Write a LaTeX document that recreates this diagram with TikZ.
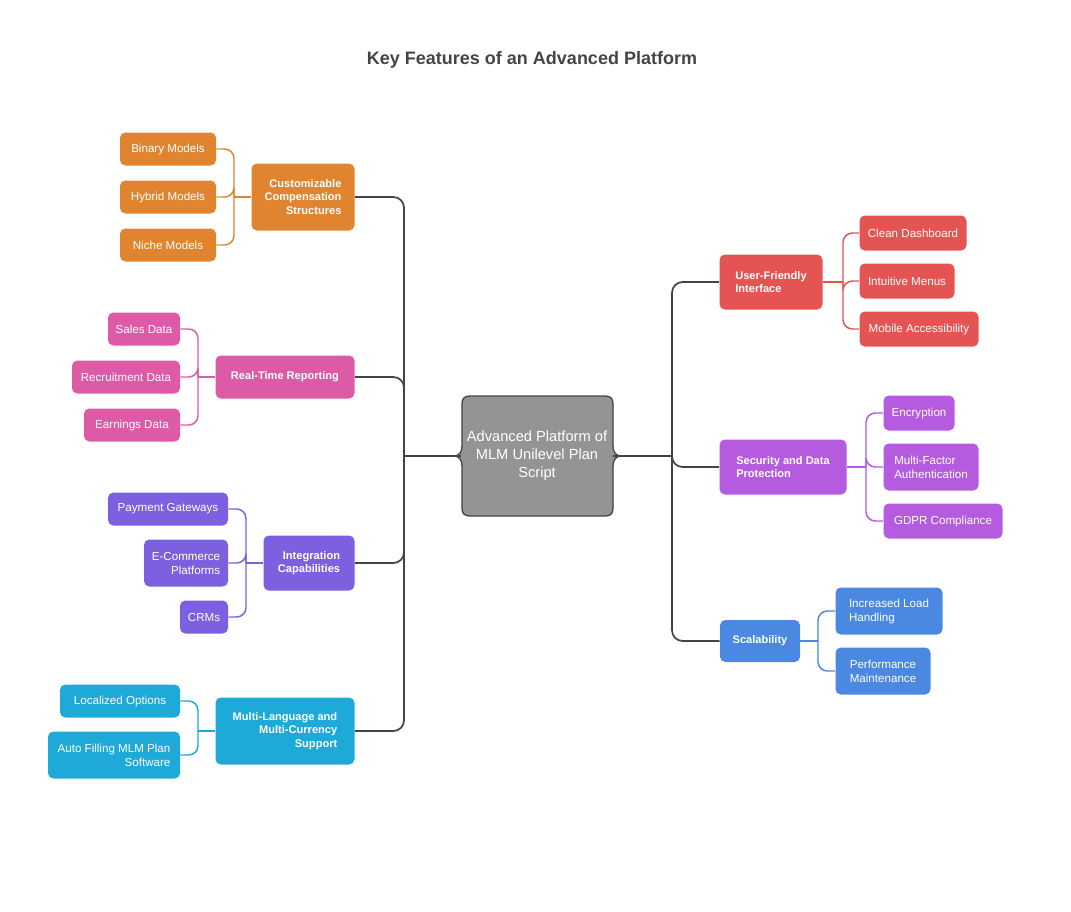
\documentclass[tikz,border=0pt]{standalone}
\usepackage{fontspec}
\setmainfont{Liberation Sans}
\usetikzlibrary{positioning}
\definecolor{cOrange}{HTML}{E0842F}
\definecolor{cPink}{HTML}{DD5AA6}
\definecolor{cPurple}{HTML}{7D60E0}
\definecolor{cCyan}{HTML}{1DAAD8}
\definecolor{cRed}{HTML}{E45452}
\definecolor{cViolet}{HTML}{B55BE0}
\definecolor{cBlue}{HTML}{4A88E2}
\definecolor{cLine}{HTML}{444444}
\tikzset{
  topic/.style={rectangle, rounded corners=4pt, text=white, font=\fontsize{8.3}{10.3}\selectfont\bfseries, align=right, inner sep=2pt},
  leaf/.style={rectangle, rounded corners=4pt, text=white, font=\fontsize{8.7}{10.5}\selectfont, align=left, inner sep=2pt},
  sz/.style 2 args={minimum width=#1*0.75pt, minimum height=#2*0.75pt},
  trunk/.style={draw=cLine, line width=1.3pt, rounded corners=8pt},
  twig/.style={line width=1.1pt, rounded corners=7pt},
}
\begin{document}
\begin{tikzpicture}[x=0.75pt, y=-0.75pt]
  \useasboundingbox (0,0) rectangle (1071,911);

  % Title
  \node (title) at (532,60) [text=cLine, font=\fontsize{13.5}{16}\selectfont\bfseries] {Key Features of an Advanced Platform};

  % Centre
  \node (centre) at (537,456) [sz={151}{120}] {};
  \fill[fill=black!42, draw=cLine, line width=1pt]
    (470,396) -- (605,396) .. controls (611,396) and (613,399) .. (613,404) -- (613,446)
    .. controls (613,452) and (616,456) .. (621,456) .. controls (616,456) and (613,460) .. (613,466)
    -- (613,508) .. controls (613,513) and (611,516) .. (605,516) -- (470,516)
    .. controls (464,516) and (462,513) .. (462,508) -- (462,466)
    .. controls (462,460) and (459,456) .. (454,456) .. controls (459,456) and (462,452) .. (462,446)
    -- (462,404) .. controls (462,399) and (464,396) .. (470,396) -- cycle;
  \node at (centre) [align=center, text=white, font=\fontsize{11}{13.5}\selectfont] {Advanced Platform of\\MLM Unilevel Plan\\Script};

  % Left topics
  \node (comp) at (303,197) [topic, fill=cOrange, sz={103}{67}] {Customizable\\Compensation\\Structures};
  \node (bin) at (168,149) [leaf, fill=cOrange, sz={96}{33}] {Binary Models};
  \node (hyb) at (168,197) [leaf, fill=cOrange, sz={96}{33}] {Hybrid Models};
  \node (nic) at (168,245) [leaf, fill=cOrange, sz={96}{33}] {Niche Models};

  \node (rep) at (285,377) [topic, fill=cPink, sz={139}{43}] {Real-Time Reporting};
  \node (sal) at (144,329) [leaf, fill=cPink, sz={72}{33}] {Sales Data};
  \node (rec) at (126,377) [leaf, fill=cPink, sz={108}{33}] {Recruitment Data};
  \node (ear) at (132,425) [leaf, fill=cPink, sz={96}{33}] {Earnings Data};

  \node (integ) at (309,563) [topic, fill=cPurple, sz={91}{55}] {Integration\\Capabilities};
  \node (pay) at (168,509) [leaf, fill=cPurple, sz={120}{33}] {Payment Gateways};
  \node (eco) at (186,563) [leaf, fill=cPurple, sz={84}{47}, align=right] {E-Commerce\\Platforms};
  \node (crm) at (204,617) [leaf, fill=cPurple, sz={48}{33}] {CRMs};

  \node (lang) at (285,731) [topic, fill=cCyan, sz={139}{67}] {Multi-Language and\\Multi-Currency\\Support};
  \node (loc) at (120,701) [leaf, fill=cCyan, sz={120}{33}] {Localized Options};
  \node (auto) at (114,755) [leaf, fill=cCyan, sz={132}{47}, align=right] {Auto Filling MLM Plan\\Software};

  % Right topics
  \node (ui) at (771,282) [topic, fill=cRed, sz={103}{55}, align=left] {User-Friendly\\Interface};
  \node (cle) at (913,233) [leaf, fill=cRed, sz={107}{35}] {Clean Dashboard};
  \node (int) at (907,281) [leaf, fill=cRed, sz={95}{35}] {Intuitive Menus};
  \node (mob) at (919,329) [leaf, fill=cRed, sz={119}{35}] {Mobile Accessibility};

  \node (sec) at (783,467) [topic, fill=cViolet, sz={127}{55}, align=left] {Security and Data\\Protection};
  \node (enc) at (919,413) [leaf, fill=cViolet, sz={71}{35}] {Encryption};
  \node (mfa) at (931,467) [leaf, fill=cViolet, sz={95}{47}] {Multi-Factor\\Authentication};
  \node (gdp) at (943,521) [leaf, fill=cViolet, sz={119}{35}] {GDPR Compliance};

  \node (scal) at (760,641) [topic, fill=cBlue, sz={80}{42}, align=left] {Scalability};
  \node (load) at (889,611) [leaf, fill=cBlue, sz={107}{47}] {Increased Load\\Handling};
  \node (perf) at (883,671) [leaf, fill=cBlue, sz={95}{47}] {Performance\\Maintenance};

  % Bracket points
  \coordinate (lt) at (404,456);
  \coordinate (rt) at (672,456);
  \coordinate (bComp) at (234,197);
  \coordinate (bRep) at (198,377);
  \coordinate (bInteg) at (246,563);
  \coordinate (bLang) at (198,731);
  \coordinate (bUi) at (843,282);
  \coordinate (bSec) at (866,467);
  \coordinate (bScal) at (818,641);

  % Trunks
  \draw[trunk] (lt) -- (centre.west);
  \foreach \t in {comp,rep,integ,lang} \draw[trunk] (\t.east) -| (lt);
  \draw[trunk] (centre.east) -- (rt);
  \foreach \t in {ui,sec,scal} \draw[trunk] (rt) |- (\t.west);

  % Twigs
  \draw[twig, cOrange] (bComp) -- (comp.west);
  \foreach \c in {bin,hyb,nic} \draw[twig, cOrange] (\c.east) -| (bComp);
  \draw[twig, cPink] (bRep) -- (rep.west);
  \foreach \c in {sal,rec,ear} \draw[twig, cPink] (\c.east) -| (bRep);
  \draw[twig, cPurple] (bInteg) -- (integ.west);
  \foreach \c in {pay,eco,crm} \draw[twig, cPurple] (\c.east) -| (bInteg);
  \draw[twig, cCyan] (bLang) -- (lang.west);
  \foreach \c in {loc,auto} \draw[twig, cCyan] (\c.east) -| (bLang);
  \draw[twig, cRed] (ui.east) -- (bUi);
  \foreach \c in {cle,int,mob} \draw[twig, cRed] (bUi) |- (\c.west);
  \draw[twig, cViolet] (sec.east) -- (bSec);
  \foreach \c in {enc,mfa,gdp} \draw[twig, cViolet] (bSec) |- (\c.west);
  \draw[twig, cBlue] (scal.east) -- (bScal);
  \foreach \c in {load,perf} \draw[twig, cBlue] (bScal) |- (\c.west);
\end{tikzpicture}
\end{document}
